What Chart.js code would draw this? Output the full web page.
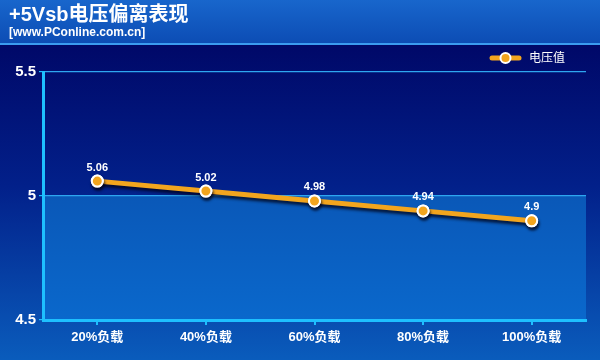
<!DOCTYPE html>
<html>
<head>
<meta charset="utf-8">
<script src="https://cdn.jsdelivr.net/npm/chart.js@4"></script>
<style>
  html, body { margin: 0; padding: 0; background: #000a6a; }
  #wrap { width: 600px; height: 360px; }
</style>
</head>
<body>
<div id="wrap"><canvas id="myChart" width="600" height="360"></canvas></div>
<script>
// chart data
const categories = ["20%负载", "40%负载", "60%负载", "80%负载", "100%负载"];
const voltage = [5.06, 5.02, 4.98, 4.94, 4.9];
const seriesName = "电压值";
const titleText = "+5Vsb电压偏离表现";
const subText = "[www.PConline.com.cn]";
const yTicks = [4.5, 5, 5.5];

const FONT = "'Liberation Sans', Arial, 'Noto Sans CJK SC', sans-serif";
const LINE_COLOR = "#f2a51e";

// backgrounds, header, legend, line shadow and value labels
const decoPlugin = {
  id: "deco",
  beforeDraw(chart) {
    const ctx = chart.ctx;
    const w = chart.width, h = chart.height;
    const area = chart.chartArea;
    const y = chart.scales.y;

    // page gradient
    let g = ctx.createLinearGradient(0, 44, 0, h);
    g.addColorStop(0, "#000868");
    g.addColorStop(0.45, "#02208a");
    g.addColorStop(1, "#0a5cbc");
    ctx.fillStyle = g;
    ctx.fillRect(0, 0, w, h);

    // header band
    g = ctx.createLinearGradient(0, 0, 0, 44);
    g.addColorStop(0, "#1866cc");
    g.addColorStop(1, "#0c4cb4");
    ctx.fillStyle = g;
    ctx.fillRect(0, 0, w, 43);
    ctx.fillStyle = "#3a9cf0";
    ctx.fillRect(0, 43, w, 2);

    // lower band of plot area
    const y5 = y.getPixelForValue(5);
    g = ctx.createLinearGradient(0, y5, 0, area.bottom);
    g.addColorStop(0, "#0a58b8");
    g.addColorStop(1, "#0a68cc");
    ctx.fillStyle = g;
    ctx.fillRect(area.left, y5, area.right - area.left, area.bottom - y5);

    // title
    ctx.fillStyle = "#ffffff";
    ctx.textBaseline = "middle";
    ctx.textAlign = "left";
    ctx.font = "bold 20px " + FONT;
    ctx.fillText(titleText, 9, 15);
    ctx.font = "bold 12px " + FONT;
    ctx.fillText(subText, 9, 33);

    // legend
    const lx = 492, ly = 58;
    ctx.save();
    ctx.strokeStyle = LINE_COLOR;
    ctx.lineWidth = 5;
    ctx.lineCap = "round";
    ctx.beginPath();
    ctx.moveTo(lx, ly);
    ctx.lineTo(lx + 27, ly);
    ctx.stroke();
    ctx.beginPath();
    ctx.arc(lx + 13.5, ly, 5, 0, Math.PI * 2);
    ctx.fillStyle = LINE_COLOR;
    ctx.fill();
    ctx.lineWidth = 2;
    ctx.strokeStyle = "#ffffff";
    ctx.stroke();
    ctx.restore();
    ctx.fillStyle = "#ffffff";
    ctx.font = "12px " + FONT;
    ctx.textAlign = "left";
    ctx.fillText(seriesName, lx + 37, ly + 1);
  },
  beforeDatasetDraw(chart) {
    const ctx = chart.ctx;
    ctx.save();
    ctx.shadowColor = "rgba(0,0,20,0.75)";
    ctx.shadowBlur = 3;
    ctx.shadowOffsetX = 1;
    ctx.shadowOffsetY = 3;
  },
  afterDatasetDraw(chart, args) {
    const ctx = chart.ctx;
    ctx.restore();
    // redraw points without the shadow
    args.meta.data.forEach(function (pt) { pt.draw(ctx); });
  },
  afterDatasetsDraw(chart) {
    const ctx = chart.ctx;
    const meta = chart.getDatasetMeta(0);
    ctx.save();
    ctx.fillStyle = "#ffffff";
    ctx.font = "bold 11px " + FONT;
    ctx.textAlign = "center";
    ctx.textBaseline = "bottom";
    meta.data.forEach(function (pt, i) {
      ctx.fillText(String(voltage[i]), pt.x, pt.y - 8);
    });
    ctx.restore();
  }
};

var ctx = document.getElementById("myChart").getContext("2d");
myChart = new Chart(ctx, {
  type: "line",
  data: {
    labels: categories,
    datasets: [
      {
        label: seriesName,
        data: voltage,
        borderColor: LINE_COLOR,
        borderWidth: 5,
        pointRadius: 5.5,
        pointBackgroundColor: LINE_COLOR,
        pointBorderColor: "#ffffff",
        pointBorderWidth: 2,
        tension: 0
      }
    ]
  },
  options: {
    responsive: false,
    animation: false,
    layout: { padding: { top: 72, right: 14, left: 5, bottom: 0 } },
    plugins: {
      legend: { display: false },
      tooltip: { enabled: false }
    },
    scales: {
      x: {
        offset: true,
        afterFit(scale) { scale.height = 40; },
        grid: {
          drawOnChartArea: false,
          drawTicks: true,
          tickLength: 5,
          color: "#1ec0ff",
          lineWidth: 2
        },
        border: { color: "#1ec0ff", width: 3 },
        ticks: {
          color: "#ffffff",
          padding: 5,
          font: { family: FONT, size: 13, weight: "bold" }
        }
      },
      y: {
        min: 4.5,
        max: 5.5,
        afterFit(scale) { scale.width = 38; },
        afterBuildTicks(scale) {
          scale.ticks = yTicks.map(function (v) { return { value: v }; });
        },
        grid: {
          color: "#2ea6f0",
          lineWidth: 1.2,
          drawTicks: true,
          tickLength: 4,
          tickColor: "#1ec0ff"
        },
        border: { color: "#1ec0ff", width: 3 },
        ticks: {
          color: "#ffffff",
          padding: 3,
          font: { family: FONT, size: 15, weight: "bold" },
          callback: function (v) { return String(v); }
        }
      }
    }
  },
  plugins: [decoPlugin]
});
</script>
</body>
</html>
